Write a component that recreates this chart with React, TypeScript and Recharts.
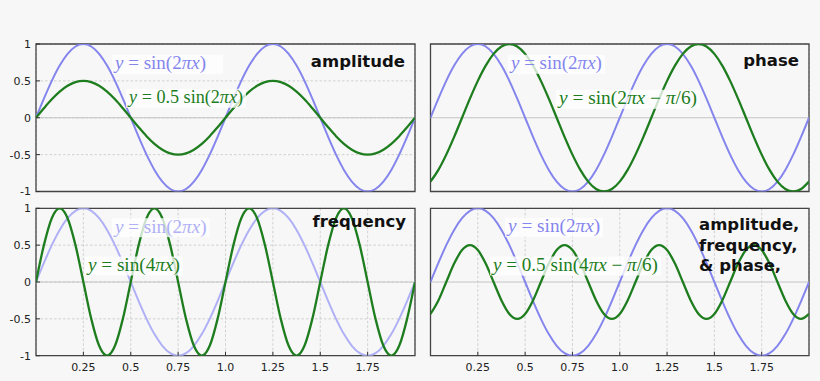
import React from 'react';
import { LineChart, Line, XAxis, YAxis, CartesianGrid, ReferenceLine, ReferenceDot, ReferenceArea } from 'recharts';

const SANS = '"DejaVu Sans", Verdana, sans-serif';
const MATH = '"Liberation Serif", "DejaVu Serif", serif';

// x samples (0 .. 2, step 1/24)
const xValues = [
  0, 0.0417, 0.0833, 0.125, 0.1667, 0.2083, 0.25, 0.2917, 0.3333, 0.375, 0.4167, 0.4583,
  0.5, 0.5417, 0.5833, 0.625, 0.6667, 0.7083, 0.75, 0.7917, 0.8333, 0.875, 0.9167, 0.9583,
  1, 1.0417, 1.0833, 1.125, 1.1667, 1.2083, 1.25, 1.2917, 1.3333, 1.375, 1.4167, 1.4583,
  1.5, 1.5417, 1.5833, 1.625, 1.6667, 1.7083, 1.75, 1.7917, 1.8333, 1.875, 1.9167, 1.9583, 2,
];

// y = sin(2πx)
const baseWave = [
  0, 0.259, 0.5, 0.707, 0.866, 0.966, 1, 0.966, 0.866, 0.707, 0.5, 0.259,
  0, -0.259, -0.5, -0.707, -0.866, -0.966, -1, -0.966, -0.866, -0.707, -0.5, -0.259,
  0, 0.259, 0.5, 0.707, 0.866, 0.966, 1, 0.966, 0.866, 0.707, 0.5, 0.259,
  0, -0.259, -0.5, -0.707, -0.866, -0.966, -1, -0.966, -0.866, -0.707, -0.5, -0.259, 0,
];

// amplitude panel (green)
const ampWave = [
  0, 0.129, 0.25, 0.354, 0.433, 0.483, 0.5, 0.483, 0.433, 0.354, 0.25, 0.129,
  0, -0.129, -0.25, -0.354, -0.433, -0.483, -0.5, -0.483, -0.433, -0.354, -0.25, -0.129,
  0, 0.129, 0.25, 0.354, 0.433, 0.483, 0.5, 0.483, 0.433, 0.354, 0.25, 0.129,
  0, -0.129, -0.25, -0.354, -0.433, -0.483, -0.5, -0.483, -0.433, -0.354, -0.25, -0.129, 0,
];

// phase panel (green)
const phaseWave = [
  -0.866, -0.707, -0.5, -0.259, 0, 0.259, 0.5, 0.707, 0.866, 0.966, 1, 0.966,
  0.866, 0.707, 0.5, 0.259, 0, -0.259, -0.5, -0.707, -0.866, -0.966, -1, -0.966,
  -0.866, -0.707, -0.5, -0.259, 0, 0.259, 0.5, 0.707, 0.866, 0.966, 1, 0.966,
  0.866, 0.707, 0.5, 0.259, 0, -0.259, -0.5, -0.707, -0.866, -0.966, -1, -0.966, -0.866,
];

// frequency panel (green)
const freqWave = [
  0, 0.5, 0.866, 1, 0.866, 0.5, 0, -0.5, -0.866, -1, -0.866, -0.5,
  0, 0.5, 0.866, 1, 0.866, 0.5, 0, -0.5, -0.866, -1, -0.866, -0.5,
  0, 0.5, 0.866, 1, 0.866, 0.5, 0, -0.5, -0.866, -1, -0.866, -0.5,
  0, 0.5, 0.866, 1, 0.866, 0.5, 0, -0.5, -0.866, -1, -0.866, -0.5, 0,
];

// amplitude, frequency & phase panel (green)
const comboWave = [
  -0.433, -0.25, 0, 0.25, 0.433, 0.5, 0.433, 0.25, 0, -0.25, -0.433, -0.5,
  -0.433, -0.25, 0, 0.25, 0.433, 0.5, 0.433, 0.25, 0, -0.25, -0.433, -0.5,
  -0.433, -0.25, 0, 0.25, 0.433, 0.5, 0.433, 0.25, 0, -0.25, -0.433, -0.5,
  -0.433, -0.25, 0, 0.25, 0.433, 0.5, 0.433, 0.25, 0, -0.25, -0.433, -0.5, -0.433,
];

const xTicks = [0.25, 0.5, 0.75, 1, 1.25, 1.5, 1.75];
const xTickLabels = ['0.25', '0.5', '0.75', '1.0', '1.25', '1.5', '1.75'];
const yTicks = [-1, -0.5, 0, 0.5, 1];
const yTickLabels = ['-1', '-0.5', '0', '0.5', '1'];

type Piece = [string, boolean];
const F_SIN2: Piece[] = [['y', true], [' = sin(2', false], ['π', true], ['x', true], [')', false]];
const F_AMP: Piece[] = [['y', true], [' = 0.5 sin(2', false], ['π', true], ['x', true], [')', false]];
const F_PHASE: Piece[] = [['y', true], [' = sin(2', false], ['π', true], ['x', true], [' − ', false], ['π', true], ['/6)', false]];
const F_FREQ: Piece[] = [['y', true], [' = sin(4', false], ['π', true], ['x', true], [')', false]];
const F_COMBO: Piece[] = [['y', true], [' = 0.5 sin(4', false], ['π', true], ['x', true], [' − ', false], ['π', true], ['/6)', false]];

const BLUE = '#8585ee';
const BLUE_LIGHT = '#b0b0f6';
const GREEN = '#1e7d1e';

type Formula = { pieces: Piece[]; x: number; y: number; w: number; padR: number; color: string };

const formulaShape = (f: Formula) => (props: any) => {
  const { cx, cy } = props;
  const fs = 18;
  return (
    <g>
      <rect x={cx - 3} y={cy - 9.5} width={f.w + 3 + f.padR} height={19} fill="#ffffff" fillOpacity={0.78} />
      <text
        x={cx}
        y={cy + fs * 0.27}
        fill={f.color}
        fontFamily={MATH}
        fontSize={fs}
        textLength={f.w}
        lengthAdjust="spacingAndGlyphs"
      >
        {f.pieces.map((p, i) => (
          <tspan key={i} fontStyle={p[1] ? 'italic' : 'normal'}>{p[0]}</tspan>
        ))}
      </text>
    </g>
  );
};

type Title = { lines: string[]; x: number; y: number; anchor: 'start' | 'end' };

const titleShape = (t: Title) => (props: any) => {
  const { cx, cy } = props;
  return (
    <text x={cx} y={cy} textAnchor={t.anchor} fontFamily={SANS} fontWeight="bold" fontSize={16.5} fill="#111">
      {t.lines.map((l, i) => (
        <tspan key={i} x={cx} dy={i === 0 ? 0 : 20.6}>{l}</tspan>
      ))}
    </text>
  );
};

type PanelCfg = {
  left: number; top: number; width: number; height: number;
  margin: { top: number; right: number; bottom: number; left: number };
  showX: boolean; showY: boolean;
  blue: number[]; green: number[]; blueColor: string;
  formulas: Formula[]; title: Title;
};

const panels: PanelCfg[] = [
  {
    left: 0, top: 0, width: 420, height: 205,
    margin: { top: 44, right: 5, bottom: 13.5, left: 0 },
    showX: false, showY: true, blue: baseWave, green: ampWave, blueColor: BLUE,
    formulas: [
      { pieces: F_SIN2, x: 0.417, y: 0.725, w: 91, padR: 17, color: BLUE },
      { pieces: F_AMP, x: 0.491, y: 0.264, w: 114, padR: 3, color: GREEN },
    ],
    title: { lines: ['amplitude'], x: 1.947, y: 0.692, anchor: 'end' },
  },
  {
    left: 420, top: 0, width: 400, height: 205,
    margin: { top: 44, right: 11, bottom: 13.5, left: 10.5 },
    showX: false, showY: false, blue: baseWave, green: phaseWave, blueColor: BLUE,
    formulas: [
      { pieces: F_SIN2, x: 0.425, y: 0.725, w: 91, padR: 3, color: BLUE },
      { pieces: F_PHASE, x: 0.679, y: 0.25, w: 138, padR: 3, color: GREEN },
    ],
    title: { lines: ['phase'], x: 1.947, y: 0.706, anchor: 'end' },
  },
  {
    left: 0, top: 195, width: 420, height: 186,
    margin: { top: 13.3, right: 5, bottom: 0, left: 0 },
    showX: true, showY: true, blue: baseWave, green: freqWave, blueColor: BLUE_LIGHT,
    formulas: [
      { pieces: F_SIN2, x: 0.417, y: 0.737, w: 91.5, padR: 3, color: BLUE_LIGHT },
      { pieces: F_FREQ, x: 0.274, y: 0.217, w: 92, padR: 3, color: GREEN },
    ],
    title: { lines: ['frequency'], x: 1.953, y: 0.75, anchor: 'end' },
  },
  {
    left: 420, top: 195, width: 400, height: 186,
    margin: { top: 13.3, right: 11, bottom: 0, left: 10.5 },
    showX: true, showY: false, blue: baseWave, green: comboWave, blueColor: BLUE,
    formulas: [
      { pieces: F_SIN2, x: 0.41, y: 0.742, w: 92, padR: 3, color: BLUE },
      { pieces: F_COMBO, x: 0.33, y: 0.217, w: 165, padR: 3, color: GREEN },
    ],
    title: { lines: ['amplitude,', 'frequency,', '& phase,'], x: 1.419, y: 0.706, anchor: 'start' },
  },
];

const tickStyle = { fill: '#222', fontSize: 11, fontFamily: SANS };
const tickLineStyle = { stroke: '#333', strokeWidth: 1 };

function Panel({ cfg }: { cfg: PanelCfg }) {
  const data = xValues.map((x, i) => ({ x, blue: cfg.blue[i], green: cfg.green[i] }));
  return (
    <div style={{ position: 'absolute', left: cfg.left, top: cfg.top }}>
      <LineChart width={cfg.width} height={cfg.height} data={data} margin={cfg.margin}>
        <CartesianGrid stroke="#c6c6c6" strokeDasharray="2.5 2" strokeWidth={0.8} />
        <ReferenceLine y={0} stroke="#c4c4c4" strokeWidth={1} />
        <XAxis
          dataKey="x" type="number" domain={[0, 2]} ticks={xTicks} interval={0}
          height={cfg.showX ? 25.3 : 0}
          tick={cfg.showX ? tickStyle : false}
          tickFormatter={(v: number) => xTickLabels[xTicks.indexOf(v)] ?? ''}
          tickSize={-4} tickMargin={11.5} axisLine={false} tickLine={tickLineStyle} allowDataOverflow
        />
        <XAxis
          xAxisId="top" orientation="top" dataKey="x" type="number" domain={[0, 2]} ticks={xTicks} interval={0}
          height={0} tick={false} tickSize={-4} axisLine={false} tickLine={tickLineStyle} allowDataOverflow
        />
        <YAxis
          type="number" domain={[-1, 1]} ticks={yTicks} interval={0}
          width={cfg.showY ? 36 : 0}
          tick={cfg.showY ? tickStyle : false}
          tickFormatter={(v: number) => yTickLabels[yTicks.indexOf(v)] ?? ''}
          tickSize={-4} tickMargin={9} axisLine={false} tickLine={tickLineStyle} allowDataOverflow
        />
        <YAxis
          yAxisId="right" orientation="right" type="number" domain={[-1, 1]} ticks={yTicks} interval={0}
          width={0} tick={false} tickSize={-4} axisLine={false} tickLine={tickLineStyle} allowDataOverflow
        />
        <Line type="monotone" dataKey="blue" stroke={cfg.blueColor} strokeWidth={2} dot={false} activeDot={false} isAnimationActive={false} />
        <Line type="monotone" dataKey="green" stroke={GREEN} strokeWidth={2.3} dot={false} activeDot={false} isAnimationActive={false} />
        {cfg.formulas.map((f, i) => (
          <ReferenceDot key={'f' + i} x={f.x} y={f.y} r={1} ifOverflow="visible" shape={formulaShape(f)} />
        ))}
        <ReferenceDot x={cfg.title.x} y={cfg.title.y} r={1} ifOverflow="visible" shape={titleShape(cfg.title)} />
        <ReferenceArea x1={0} x2={2} y1={-1} y2={1} fill="none" fillOpacity={0} stroke="#444" strokeWidth={1.3} ifOverflow="visible" />
      </LineChart>
    </div>
  );
}

export default function App() {
  return (
    <div style={{ position: 'absolute', left: 0, top: 0, width: 820, height: 381, background: '#f7f7f7', overflow: 'hidden' }}>
      {panels.map((p, i) => (
        <Panel key={i} cfg={p} />
      ))}
    </div>
  );
}
